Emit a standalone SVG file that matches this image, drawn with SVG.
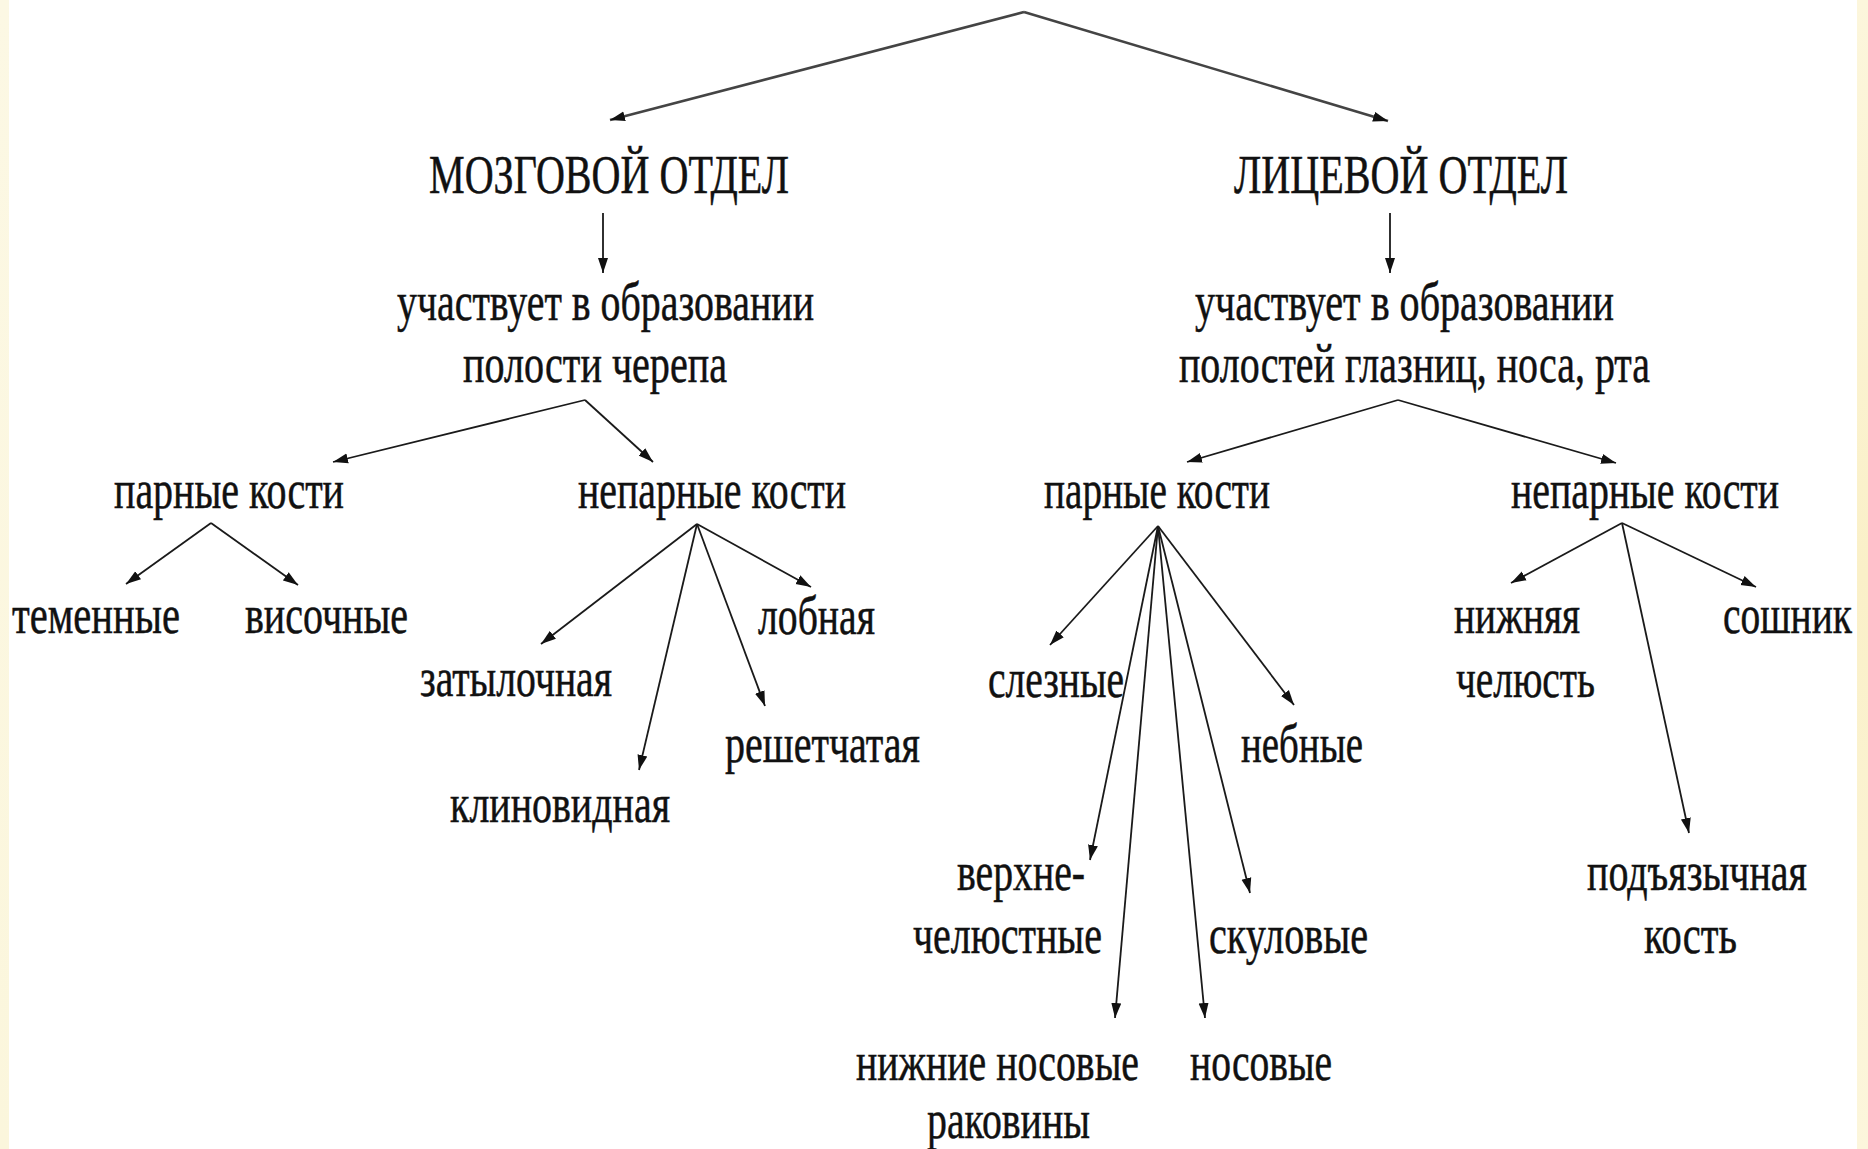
<svg xmlns="http://www.w3.org/2000/svg" width="1868" height="1149" viewBox="0 0 1868 1149">
<defs>
<linearGradient id="edgeL" x1="0" y1="0" x2="0" y2="1"><stop offset="0" stop-color="#fcf8e4"/><stop offset="1" stop-color="#fbf6dc"/></linearGradient>
<linearGradient id="edgeR" x1="0" y1="0" x2="0" y2="1"><stop offset="0" stop-color="#fcf6dc"/><stop offset="0.5" stop-color="#faf0c8"/><stop offset="1" stop-color="#fcf6dc"/></linearGradient>
<marker id="ah" markerUnits="userSpaceOnUse" markerWidth="16" markerHeight="11" refX="15" refY="5.5" orient="auto"><path d="M0,0.5 L15,5.5 L0,10.5 z" fill="#111"/></marker>
</defs>
<style>
text{font-family:"Liberation Serif","Times New Roman",serif;font-size:54px;fill:#111;stroke:#111;stroke-width:0.5;}
.c path{fill:none;stroke:#1a1a1a;stroke-width:1.8;marker-end:url(#ah);}
.c .top{stroke:#444;stroke-width:2.6;}
</style>
<rect width="1868" height="1149" fill="#ffffff"/>
<rect x="0" y="0" width="9" height="1149" fill="url(#edgeL)"/>
<rect x="1857" y="0" width="11" height="1149" fill="url(#edgeR)"/>

<g class="c" id="connectors">
<path class="top" d="M1024,12 L610,120"/>
<path class="top" d="M1024,12 L1388,121"/>
<path d="M603,213 L603,273"/>
<path d="M1390,213 L1390,273"/>
<path d="M585,400 L333,462"/>
<path d="M585,400 L653,462"/>
<path d="M1398,400 L1187,462"/>
<path d="M1398,400 L1616,463"/>
<path d="M211,523 L126,584"/>
<path d="M211,523 L298,585"/>
<path d="M697,524 L541,644"/>
<path d="M697,524 L639,770"/>
<path d="M697,524 L765,706"/>
<path d="M697,524 L811,587"/>
<path d="M1158,526 L1050,645"/>
<path d="M1158,526 L1090,860"/>
<path d="M1158,526 L1115,1018"/>
<path d="M1158,526 L1205,1018"/>
<path d="M1158,526 L1250,893"/>
<path d="M1158,526 L1294,705"/>
<path d="M1622,523 L1511,583"/>
<path d="M1622,523 L1756,587"/>
<path d="M1622,523 L1689,833"/>
</g>

<g id="n-mozg"><text x="429" y="193" textLength="360" lengthAdjust="spacingAndGlyphs">МОЗГОВОЙ ОТДЕЛ</text></g>
<g id="n-lits"><text x="1234" y="193" textLength="334" lengthAdjust="spacingAndGlyphs">ЛИЦЕВОЙ ОТДЕЛ</text></g>
<g id="n-mozg-role">
<text x="397" y="320" textLength="417" lengthAdjust="spacingAndGlyphs">участвует в образовании</text>
<text x="463" y="382" textLength="264" lengthAdjust="spacingAndGlyphs">полости черепа</text>
</g>
<g id="n-lits-role">
<text x="1195" y="320" textLength="419" lengthAdjust="spacingAndGlyphs">участвует в образовании</text>
<text x="1179" y="382" textLength="471" lengthAdjust="spacingAndGlyphs">полостей глазниц, носа, рта</text>
</g>
<g id="n-l-par"><text x="114" y="508" textLength="230" lengthAdjust="spacingAndGlyphs">парные кости</text></g>
<g id="n-l-nepar"><text x="578" y="508" textLength="268" lengthAdjust="spacingAndGlyphs">непарные кости</text></g>
<g id="n-temen"><text x="12" y="633" textLength="168" lengthAdjust="spacingAndGlyphs">теменные</text></g>
<g id="n-visoch"><text x="245" y="633" textLength="163" lengthAdjust="spacingAndGlyphs">височные</text></g>
<g id="n-lobn"><text x="758" y="634" textLength="117" lengthAdjust="spacingAndGlyphs">лобная</text></g>
<g id="n-zatyl"><text x="420" y="696" textLength="192" lengthAdjust="spacingAndGlyphs">затылочная</text></g>
<g id="n-reshet"><text x="725" y="762" textLength="195" lengthAdjust="spacingAndGlyphs">решетчатая</text></g>
<g id="n-klin"><text x="450" y="822" textLength="220" lengthAdjust="spacingAndGlyphs">клиновидная</text></g>
<g id="n-r-par"><text x="1044" y="508" textLength="226" lengthAdjust="spacingAndGlyphs">парные кости</text></g>
<g id="n-r-nepar"><text x="1511" y="508" textLength="268" lengthAdjust="spacingAndGlyphs">непарные кости</text></g>
<g id="n-slez"><text x="988" y="697" textLength="136" lengthAdjust="spacingAndGlyphs">слезные</text></g>
<g id="n-nebn"><text x="1241" y="762" textLength="122" lengthAdjust="spacingAndGlyphs">небные</text></g>
<g id="n-nizhch">
<text x="1454" y="633" textLength="126" lengthAdjust="spacingAndGlyphs">нижняя</text>
<text x="1456" y="697" textLength="139" lengthAdjust="spacingAndGlyphs">челюсть</text>
</g>
<g id="n-soshn"><text x="1723" y="633" textLength="129" lengthAdjust="spacingAndGlyphs">сошник</text></g>
<g id="n-verhch">
<text x="957" y="890" textLength="128" lengthAdjust="spacingAndGlyphs">верхне-</text>
<text x="913" y="953" textLength="189" lengthAdjust="spacingAndGlyphs">челюстные</text>
</g>
<g id="n-skul"><text x="1209" y="953" textLength="159" lengthAdjust="spacingAndGlyphs">скуловые</text></g>
<g id="n-podyaz">
<text x="1587" y="890" textLength="220" lengthAdjust="spacingAndGlyphs">подъязычная</text>
<text x="1644" y="953" textLength="93" lengthAdjust="spacingAndGlyphs">кость</text>
</g>
<g id="n-nizhnos">
<text x="856" y="1080" textLength="283" lengthAdjust="spacingAndGlyphs">нижние носовые</text>
<text x="927" y="1138" textLength="163" lengthAdjust="spacingAndGlyphs">раковины</text>
</g>
<g id="n-nos"><text x="1190" y="1080" textLength="142" lengthAdjust="spacingAndGlyphs">носовые</text></g>
</svg>
